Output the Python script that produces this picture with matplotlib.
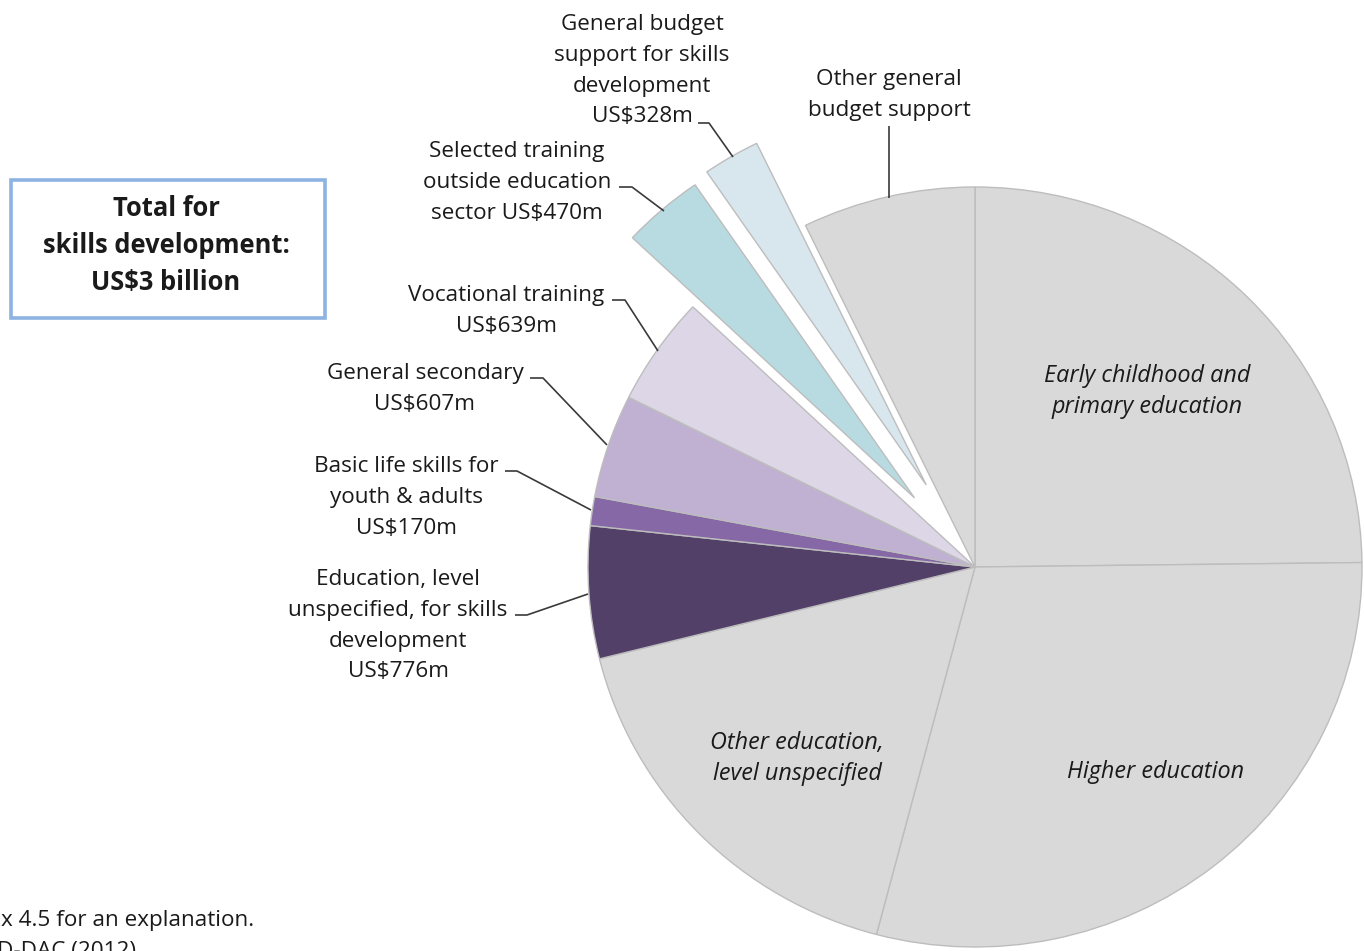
import matplotlib
matplotlib.use("Agg")
import matplotlib.pyplot as plt
from matplotlib.patches import Rectangle

# ---- data (US$ millions, clockwise from 12 o'clock) ----
categories = [
    "Early childhood and primary education",
    "Higher education",
    "Other education, level unspecified",
    "Education, level unspecified, for skills development",
    "Basic life skills for youth & adults",
    "General secondary",
    "Vocational training",
    "Selected training outside education sector",
    "General budget support for skills development",
    "Other general budget support",
]
values = [3424, 4041, 2348, 776, 170, 607, 639, 470, 328, 996]
explode = [0, 0, 0, 0, 0, 0, 0, 0.24, 0.25, 0]

colors = ["#D9D9D9", "#D9D9D9", "#D9D9D9", "#534069", "#8568A5",
          "#C0B1D3", "#DCD6E6", "#B7DBE1", "#D8E6ED", "#D9D9D9"]

W, H = 1364, 951
fig = plt.figure(figsize=(W / 100, H / 100), dpi=100)

# pie layer: unit circle mapped onto an ellipse rx=387, ry=380 px centred at (975, 567)
cx, cy, RX, RY, L = 975, 567, 387, 380, 1.3
pax = fig.add_axes([(cx - L * RX) / W, (H - cy - L * RY) / H,
                    2 * L * RX / W, 2 * L * RY / H])
pax.pie(values, colors=colors, startangle=90, counterclock=False,
        radius=1, explode=explode,
        wedgeprops=dict(edgecolor="#BDBDBD", linewidth=1.0))
pax.set_xlim(-L, L)
pax.set_ylim(-L, L)
pax.set_aspect("auto")
pax.axis("off")
pax.set_zorder(1)

# text / annotation layer in pixel coordinates (origin top-left), drawn above the pie
ax = fig.add_axes([0, 0, 1, 1])
ax.set_xlim(0, W)
ax.set_ylim(H, 0)
ax.axis("off")
ax.set_zorder(2)

FONT = "Open Sans"
FS = 16.2
LS = 30.8  # line step in px
tc = "#1a1a1a"


def label(lines, x, y_first, style="normal", weight="normal", fs=FS, step=LS):
    for i, ln in enumerate(lines):
        ax.text(x, y_first + i * step, ln, ha="center", va="baseline",
                fontsize=fs, family=FONT, style=style, weight=weight, color=tc)


def leader(pts):
    ax.plot([p[0] for p in pts], [p[1] for p in pts], color="#3a3a3a",
            lw=1.2, solid_capstyle="butt")


# outer labels
label(["General budget", "support for skills", "development", "US$328m"], 642, 30)
leader([(698, 123), (709, 123), (733, 157)])

label(["Other general", "budget support"], 889, 85)
leader([(889, 126), (889, 198)])

label(["Selected training", "outside education", "sector US$470m"], 517, 157)
leader([(619, 187), (632, 187), (664, 211)])

label(["Vocational training", "US$639m"], 506, 301)
leader([(612, 300), (625, 300), (658, 351)])

label(["General secondary", "US$607m"], 425, 379)
leader([(530, 378), (543, 378), (607, 445)])

label(["Basic life skills for", "youth & adults", "US$170m"], 406, 472)
leader([(505, 471), (517, 471), (591, 510)])

label(["Education, level", "unspecified, for skills", "development", "US$776m"], 398, 585)
leader([(515, 615), (527, 615), (588, 594)])

# inner labels (italic)
label(["Early childhood and", "primary education"], 1147, 382, style="italic", fs=16.8)
label(["Other education,", "level unspecified"], 797, 749, style="italic", fs=16.8)
label(["Higher education"], 1156, 778, style="italic", fs=16.8)

# total box
ax.add_patch(Rectangle((11, 180), 314, 138, fill=False,
                       edgecolor="#8DB3E2", lw=2.6))
label(["Total for", "skills development:", "US$3 billion"], 166, 216,
      weight="bold", fs=18.4, step=37)

# cut-off footnotes at the lower left edge
ax.text(1, 926, "x 4.5 for an explanation.", ha="left", va="baseline",
        fontsize=FS, family=FONT, color=tc)
ax.text(-3, 957, "D-DAC (2012)", ha="left", va="baseline",
        fontsize=FS, family=FONT, color=tc)

fig.savefig("out.png", dpi=100)
